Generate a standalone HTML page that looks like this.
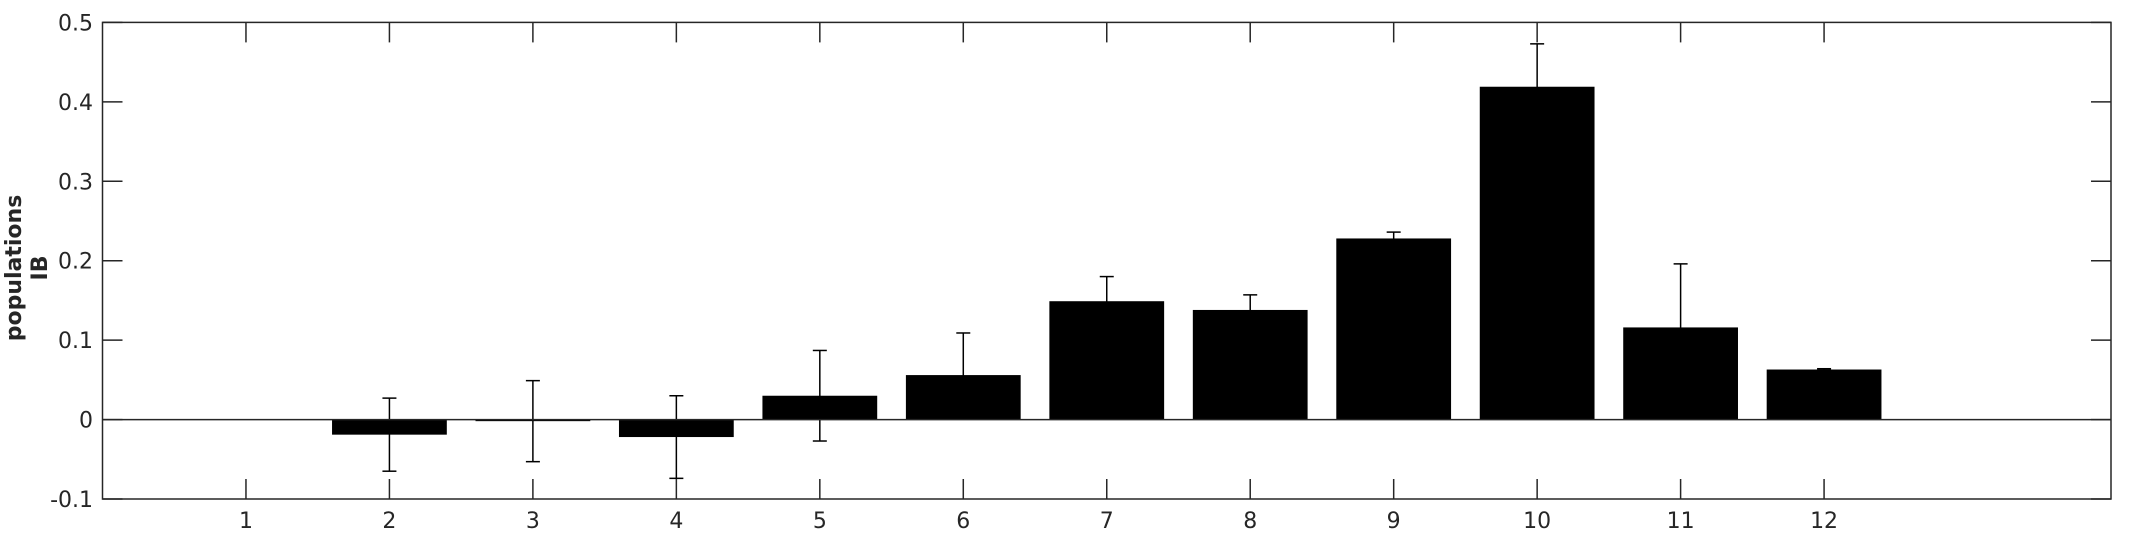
<!DOCTYPE html>
<html><head><meta charset="utf-8"><style>
html,body{margin:0;padding:0;background:#fff}
svg{display:block}
text{font-family:"DejaVu Sans","Liberation Sans",sans-serif;fill:#262626}
</style></head><body>
<svg id="chart" width="2133" height="533" viewBox="0 0 2133 533" xmlns="http://www.w3.org/2000/svg">
<g id="plot"></g>
<g id="bars"></g>
<g id="errs"></g>
<g id="axes"></g>
<text transform="translate(21,268) rotate(-90)" text-anchor="middle" font-weight="bold" font-size="22">populations</text>
<text transform="translate(47,268) rotate(-90)" text-anchor="middle" font-weight="bold" font-size="22">IB</text>
</svg>
<script>
const categories = ["1","2","3","4","5","6","7","8","9","10","11","12"];
const values = [0, -0.019, -0.002, -0.022, 0.030, 0.056, 0.149, 0.138, 0.228, 0.419, 0.116, 0.063];
const errors = [0, 0.046, 0.051, 0.052, 0.057, 0.053, 0.031, 0.019, 0.008, 0.054, 0.080, 0.001];
const yTicks = [-0.1, 0, 0.1, 0.2, 0.3, 0.4, 0.5];
const yTickLabels = ["-0.1","0","0.1","0.2","0.3","0.4","0.5"];

const L=102.5, R=2111, T=22.4, B=499;
const xMin=0, xMax=14, yMin=-0.1, yMax=0.5;
const NS="http://www.w3.org/2000/svg";
function x(v){return L+(v-xMin)/(xMax-xMin)*(R-L);}
function y(v){return B-(v-yMin)/(yMax-yMin)*(B-T);}
function mk(tag,attrs,parent){const e=document.createElementNS(NS,tag);for(const k in attrs)e.setAttribute(k,attrs[k]);parent.appendChild(e);return e;}
const bars=document.getElementById('bars'), errs=document.getElementById('errs'), axes=document.getElementById('axes');
const bw=0.8;
categories.forEach((c,i)=>{
  const xc=x(i+1), v=values[i];
  const top=Math.min(y(v),y(0)), h=Math.abs(y(v)-y(0));
  const r=mk('rect',{x:x(i+1-bw/2),y:top,width:x(bw)-x(0),height:Math.max(h,0.0001),fill:'#000'},bars);
  
  
  if(errors[i]>0){
    const g=mk('g',{stroke:'#000','stroke-width':1.5},errs);
    
    
    const hi=y(v+errors[i]), lo=y(v-errors[i]);
    mk('line',{x1:xc,x2:xc,y1:hi,y2:lo},g);
    mk('line',{x1:xc-7,x2:xc+7,y1:hi,y2:hi},g);
    mk('line',{x1:xc-7,x2:xc+7,y1:lo,y2:lo},g);
  }
});
const base=mk('line',{x1:L,x2:R,y1:y(0),y2:y(0),stroke:'#262626','stroke-width':1.5},axes);


const box=mk('rect',{x:L,y:T,width:R-L,height:B-T,fill:'none',stroke:'#262626','stroke-width':1.5},axes);


yTicks.forEach((t,i)=>{
  const yy=y(t);
  mk('line',{x1:L,x2:L+20,y1:yy,y2:yy,stroke:'#262626','stroke-width':1.5},axes);
  mk('line',{x1:R,x2:R-20,y1:yy,y2:yy,stroke:'#262626','stroke-width':1.5},axes);
  const tx=mk('text',{x:93,y:yy+8,'text-anchor':'end','font-size':22},axes);
  tx.textContent=yTickLabels[i];
  
  
});
categories.forEach((c,i)=>{
  const xx=x(i+1);
  mk('line',{x1:xx,x2:xx,y1:B,y2:B-20,stroke:'#262626','stroke-width':1.5},axes);
  mk('line',{x1:xx,x2:xx,y1:T,y2:T+20,stroke:'#262626','stroke-width':1.5},axes);
  const tx=mk('text',{x:xx,y:528,'text-anchor':'middle','font-size':22},axes);
  tx.textContent=c;
  
  
});
</script>
</body></html>
